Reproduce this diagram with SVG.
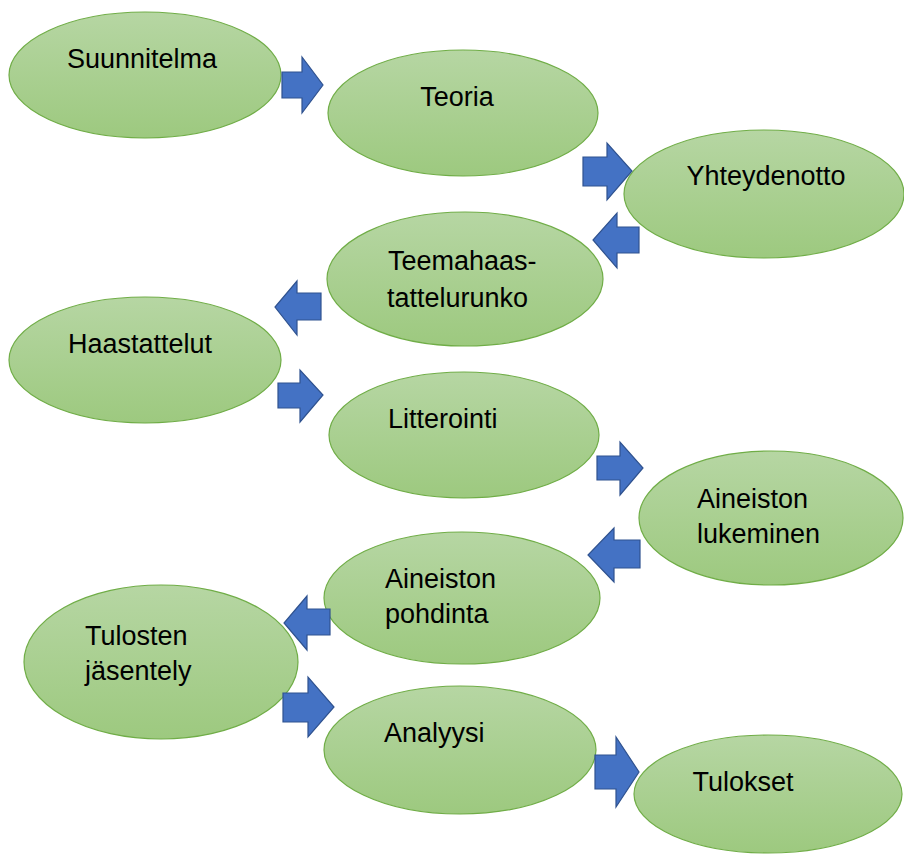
<svg xmlns="http://www.w3.org/2000/svg" width="904" height="855" viewBox="0 0 904 855">
<defs>
<linearGradient id="g" x1="0" y1="0" x2="0" y2="1">
<stop offset="0" stop-color="#b6d6a3"/>
<stop offset="1" stop-color="#9dc97f"/>
</linearGradient>
</defs>
<style>
.n ellipse{fill:url(#g);stroke:#70ad47;stroke-width:1.2}
.n text{font-family:"Liberation Sans",Arial,sans-serif;font-size:27px;fill:#000}
.c path{fill:#4472c4;stroke:#2f528f;stroke-width:1.2;stroke-linejoin:miter}
</style>
<rect width="904" height="855" fill="#fff"/>
<g id="n1" class="n"><ellipse cx="145" cy="75" rx="136" ry="63"/><text x="142" y="68" text-anchor="middle">Suunnitelma</text></g>
<g id="n2" class="n"><ellipse cx="463" cy="113" rx="135" ry="63"/><text x="457" y="106" text-anchor="middle">Teoria</text></g>
<g id="n3" class="n"><ellipse cx="764" cy="194" rx="140" ry="64"/><text x="766" y="185" text-anchor="middle">Yhteydenotto</text></g>
<g id="n4" class="n"><ellipse cx="465" cy="279" rx="138" ry="67"/><text x="388" y="270">Teemahaas-</text><text x="387" y="307">tattelurunko</text></g>
<g id="n5" class="n"><ellipse cx="145" cy="360" rx="136" ry="63"/><text x="68" y="353">Haastattelut</text></g>
<g id="n6" class="n"><ellipse cx="464" cy="435" rx="135" ry="63"/><text x="388" y="428">Litterointi</text></g>
<g id="n7" class="n"><ellipse cx="771" cy="518" rx="132" ry="67"/><text x="697" y="508">Aineiston</text><text x="697" y="543">lukeminen</text></g>
<g id="n8" class="n"><ellipse cx="462" cy="598" rx="138" ry="66"/><text x="385" y="588">Aineiston</text><text x="385" y="623">pohdinta</text></g>
<g id="n9" class="n"><ellipse cx="161" cy="662" rx="137" ry="77"/><text x="85" y="645">Tulosten</text><text x="85" y="680">jäsentely</text></g>
<g id="n10" class="n"><ellipse cx="460" cy="750" rx="136" ry="64"/><text x="384" y="742">Analyysi</text></g>
<g id="n11" class="n"><ellipse cx="768" cy="794" rx="134" ry="59"/><text x="743" y="791" text-anchor="middle">Tulokset</text></g>
<g id="connectors" class="c">
<path d="M282 72H302V57L323 85L302 113V98H282Z"/>
<path d="M583 157H607V143L632 171L607 200V186H583Z"/>
<path d="M639 227H617V213L593 240L617 268V253H639Z"/>
<path d="M321 293H297V281L275 307L297 335V320H321Z"/>
<path d="M278 383H300V370L323 395L300 422V408H278Z"/>
<path d="M597 456H620V442L643 468L620 495V480H597Z"/>
<path d="M640 540H614V528L588 555L614 582V568H640Z"/>
<path d="M330 609H307V596L284 623L307 650V635H330Z"/>
<path d="M283 693H308V677L334 707L308 737V722H283Z"/>
<path d="M595 755H616V737L639 772L616 807V789H595Z"/>
</g>
</svg>
